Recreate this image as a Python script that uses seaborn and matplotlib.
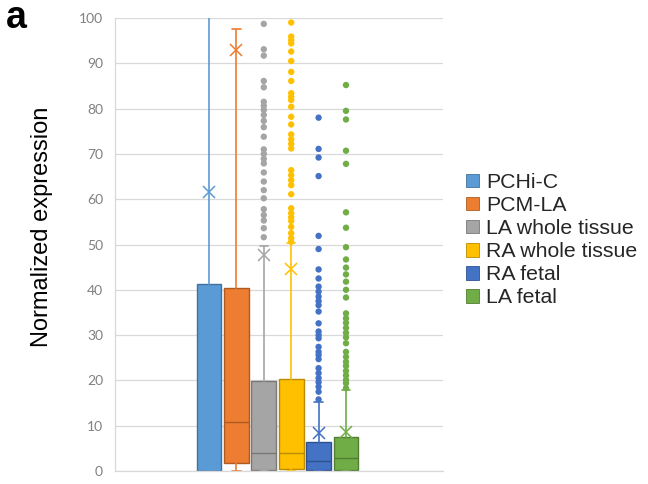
import matplotlib
matplotlib.use("Agg")
import matplotlib.pyplot as plt
import numpy as np
import pandas as pd
import seaborn as sns
from matplotlib.patches import Patch

# Series names and box statistics (normalized expression)
groups = ["PCHi-C", "PCM-LA", "LA whole tissue", "RA whole tissue", "RA fetal", "LA fetal"]
q1 = [0.0, 1.7, 0.2, 0.4, 0.2, 0.2]
median = [0.0, 10.9, 3.9, 4.0, 2.2, 2.8]
q3 = [41.3, 40.4, 19.9, 20.3, 6.5, 7.4]
whisker_low = [0.0, 0.0, 0.0, 0.0, 0.0, 0.0]
whisker_high = [108.0, 97.5, 49.7, 50.3, 15.3, 17.9]
mean = [61.6, 92.9, 47.7, 44.7, 8.3, 8.7]

# Outlying values per series
outliers_pchic = []
outliers_pcm_la = []
outliers_la_tissue = [98.7, 93.1, 91.7, 86.1, 84.7, 81.5, 80.6, 79.7, 78.6, 77.3,
                      75.9, 73.8, 71.0, 70.0, 68.9, 67.9, 65.9, 63.9, 62.0, 60.2,
                      57.8, 56.5, 55.3, 53.6, 51.6]
outliers_ra_tissue = [99.0, 95.9, 95.1, 94.4, 92.6, 90.5, 88.1, 86.1, 83.4, 82.6,
                      81.9, 80.4, 78.2, 76.5, 74.3, 73.2, 72.2, 71.2, 66.4, 65.3,
                      64.2, 63.1, 61.1, 58.0, 56.9, 56.0, 55.2, 53.9, 52.5, 51.4, 50.6]
outliers_ra_fetal = [78.0, 71.1, 69.2, 65.1, 51.9, 49.0, 44.5, 42.5, 40.7, 39.6,
                     38.5, 37.5, 36.6, 35.2, 32.6, 30.8, 30.0, 29.3, 27.4, 26.3,
                     25.6, 24.7, 22.7, 21.6, 20.5, 19.6, 18.6, 17.5, 15.8]
outliers_la_fetal = [85.2, 79.5, 77.6, 70.7, 67.8, 57.1, 53.7, 49.4, 46.7, 44.9,
                     43.4, 41.8, 40.0, 38.3, 34.8, 33.7, 32.7, 31.6, 30.5, 29.5,
                     28.2, 26.3, 25.2, 24.1, 23.2, 22.1, 21.1, 20.1, 19.4, 18.3]
outliers = [outliers_pchic, outliers_pcm_la, outliers_la_tissue,
            outliers_ra_tissue, outliers_ra_fetal, outliers_la_fetal]

fills = ["#5B9BD5", "#ED7D31", "#A5A5A5", "#FFC000", "#4472C4", "#70AD47"]
edges = ["#41719C", "#AE5A21", "#787878", "#BC8C00", "#2F528F", "#507E32"]

sns.set_theme(style="white")
plt.rcParams["font.family"] = ["Liberation Sans", "DejaVu Sans"]

fig = plt.figure(figsize=(6.48, 4.84), dpi=100)
ax = fig.add_axes([115 / 648, 13 / 484, 328 / 648, 453 / 484])

# Outlier dots
out_df = pd.DataFrame(
    [(g, v) for g, vals in zip(groups, outliers) for v in vals],
    columns=["group", "value"],
)
sns.stripplot(data=out_df, x="group", y="value", hue="group", order=groups,
              hue_order=groups, palette=fills, jitter=False, size=4.6,
              linewidth=0, legend=False, ax=ax, zorder=3)

# Boxes, whiskers and mean markers
for i, g in enumerate(groups):
    stats = dict(med=median[i], q1=q1[i], q3=q3[i], whislo=whisker_low[i],
                 whishi=whisker_high[i], mean=mean[i], fliers=[], label=g)
    ax.bxp([stats], positions=[i], widths=0.91, capwidths=0.3,
           patch_artist=True, showmeans=True, showfliers=False,
           boxprops=dict(facecolor=fills[i], edgecolor=edges[i], linewidth=1.0),
           medianprops=dict(color=edges[i], linewidth=1.0),
           whiskerprops=dict(color=fills[i], linewidth=1.2),
           capprops=dict(color=fills[i], linewidth=1.2),
           meanprops=dict(marker="x", markeredgecolor=fills[i],
                          markerfacecolor=fills[i], markersize=8,
                          markeredgewidth=1.1),
           manage_ticks=False, zorder=2)

ax.set_xlim(-3.43, 8.54)
ax.set_ylim(0, 100)
ax.set_yticks(np.arange(0, 101, 10))
ax.set_xticks([])
ax.set_xlabel("")
ax.set_ylabel("")
ax.grid(axis="y", color="#d9d9d9", linewidth=0.9)
ax.set_axisbelow(True)
for side in ["top", "right"]:
    ax.spines[side].set_visible(False)
for side in ["left", "bottom"]:
    ax.spines[side].set_color("#d9d9d9")
    ax.spines[side].set_linewidth(0.9)
ax.tick_params(axis="y", length=0, pad=8.6, labelsize=10, labelcolor="#808080")
for lab in ax.get_yticklabels():
    lab.set_fontfamily(["Lato", "DejaVu Sans"])

fig.text(42 / 648, 1 - 227 / 484, "Normalized expression", rotation=90,
         ha="center", va="center", fontsize=17, color="black")
fig.text(6 / 648, 1 - 28 / 484, "a", fontsize=27, fontweight="bold",
         ha="left", va="baseline", color="black")

handles = [Patch(facecolor=f, edgecolor=e, linewidth=0.6) for f, e in zip(fills, edges)]
fig.legend(handles, groups, loc="upper left",
           bbox_to_anchor=(466 / 648, 1 - 173 / 484), frameon=False,
           fontsize=15.3, handlelength=0.62, handleheight=0.62,
           handletextpad=0.33, labelspacing=0.19, borderpad=0, borderaxespad=0)

fig.savefig("out.png", dpi=100)
